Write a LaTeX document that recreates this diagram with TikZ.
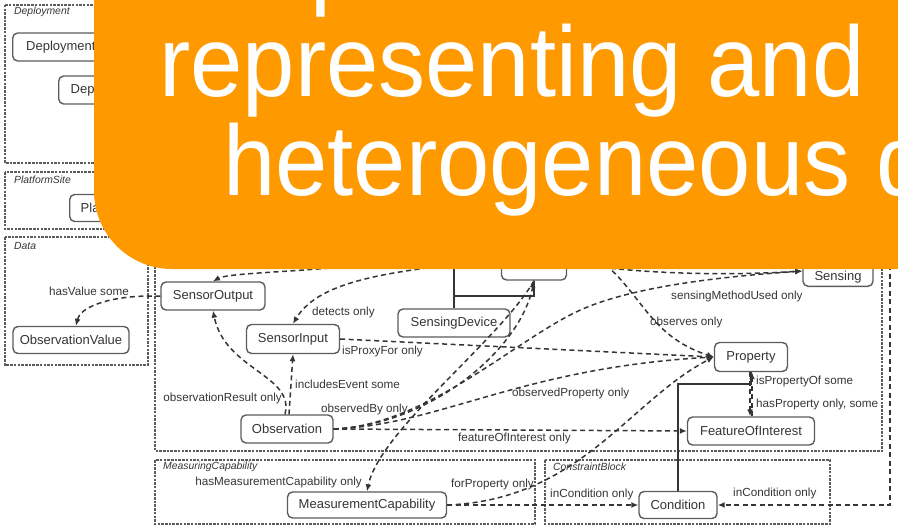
\documentclass[tikz,border=0pt]{standalone}
\usepackage{fontspec}
\setmainfont{Liberation Sans}
\usetikzlibrary{arrows.meta}

\definecolor{ink}{HTML}{353535}
\definecolor{frame}{HTML}{5C5C5C}
\definecolor{banner}{HTML}{FF9900}

\tikzset{
  cls/.style={draw=frame, line width=1.4pt, rounded corners=5pt, fill=white,
    text=ink, font=\fontsize{13}{15}\selectfont, inner sep=0pt},
  prop/.style={draw=ink, line width=1.5pt, dash pattern=on 5pt off 3.5pt},
  tip/.style={-{Latex[length=7pt,width=6pt]}},
  isa/.style={draw=ink, line width=1.4pt},
  module/.style={draw=frame, line width=1.4pt, dash pattern=on 2.5pt off 1.2pt},
  modlabel/.style={font=\fontsize{10.4}{12}\selectfont\itshape, text=ink,
    anchor=west, inner sep=0pt},
  lbl/.style={font=\fontsize{11.7}{13}\selectfont, text=ink, inner sep=0pt},
  headline/.style={font=\fontsize{100}{100}\selectfont, text=white,
    anchor=base west, inner sep=0pt},
}

\begin{document}
\begin{tikzpicture}[x=1pt,y=-1pt]
\useasboundingbox (0,0) rectangle (898,527);
\clip (0,0) rectangle (898,527);

% ---- modules --------------------------------------------------------
\draw[module] (5,5) rectangle (420,163);
\node[modlabel] (mDeployment) at (14,12) {Deployment};
\draw[module] (5,172) rectangle (420,229);
\node[modlabel] (mPlatform) at (14,180) {PlatformSite};
\draw[module] (5,237) rectangle (148,365);
\node[modlabel] (mData) at (14,246) {Data};
\draw[module] (155,200) rectangle (882,451);
\draw[module] (155,460) rectangle (535,524);
\node[modlabel] (mMeasuring) at (163,467) {MeasuringCapability};
\draw[module] (545,460) rectangle (830,524);
\node[modlabel] (mConstraint) at (553,467) {ConstraintBlock};

% ---- classes --------------------------------------------------------
\node[cls, anchor=west, inner xsep=13.5pt, minimum height=28pt] (dep) at (12,47) {Deployment};
\node[cls, anchor=west, inner xsep=12pt, minimum height=28pt] (drp) at (58,90) {DeploymentRelatedProcess};
\node[cls, anchor=west, inner xsep=11pt, minimum height=27pt] (plat) at (69,208) {Platform};
\node[cls, minimum width=116pt, minimum height=27pt] (oval) at (71,340) {ObservationValue};
\node[cls, minimum width=104pt, minimum height=28pt] (sout) at (213,296) {SensorOutput};
\node[cls, minimum width=93pt, minimum height=29pt] (sin) at (293,339) {SensorInput};
\node[cls, minimum width=112pt, minimum height=28pt] (sd) at (454,323) {SensingDevice};
\node[cls, minimum width=65pt, minimum height=44pt] (sens) at (534,258) {Sensor};
\node[cls, anchor=south, minimum width=70pt, text height=25pt, text depth=5.5pt]
  (sensing) at (838,287) {Sensing};
\node[cls, minimum width=73pt, minimum height=29pt] (prop) at (751,357) {Property};
\node[cls, minimum width=127pt, minimum height=28pt] (foi) at (751,431) {FeatureOfInterest};
\node[cls, minimum width=92pt, minimum height=28pt] (obs) at (287,429) {Observation};
\node[cls, minimum width=159pt, minimum height=26pt] (mc) at (367,505) {MeasurementCapability};
\node[cls, minimum width=78pt, minimum height=27pt] (cond) at (678,505) {Condition};

% free ends of connectors that run on beyond the frame
\coordinate (devc) at (454,230);
\coordinate (sdj) at (454,296);
\coordinate (outsrc) at (380,262);
\coordinate (detsrc) at (470,262);
\coordinate (obssrc) at (592,255);
\coordinate (implsrc) at (560,262);
\coordinate (rangesrc) at (890,180);
\coordinate (cj) at (751,384);

% ---- subclass links -------------------------------------------------
\draw[isa] (sd.north) -- (devc);
\draw[isa] (sdj) -| (sens.south);
\draw[isa] (cond.north) |- (cj) -- (prop.south);

% ---- properties -----------------------------------------------------
\draw[prop,tip] (sout.west) -- (147,296) .. controls (105,297) and (80,308) .. ([xshift=5pt]oval.north);
\draw[prop,tip] (outsrc) .. controls (320,272) and (230,272) .. (sout.north);
\draw[prop,tip] (detsrc) .. controls (400,272) and (320,278) .. (sin.north);
\draw[prop,tip] ([xshift=-2pt]obs.north) .. controls (295,375) and (225,370) .. (sout.south);
\draw[prop,tip] ([xshift=2pt]obs.north) -- (sin.south);
\draw[prop,tip] (sin.east) -- (prop.west);
\draw[prop,tip] (obs.east) .. controls (430,425) and (520,350) .. (sens.south);
\draw[prop,tip] (sens.south) .. controls (500,340) and (380,430) .. (mc.north);
\draw[prop,tip] (obs.east) .. controls (430,425) and (520,335) .. (585,308) .. controls (640,285) and (730,276) .. (sensing.west);
\draw[prop,tip] (implsrc) .. controls (640,274) and (720,276) .. (sensing.west);
\draw[prop,tip] (obs.east) .. controls (440,425) and (520,368) .. (prop.west);
\draw[prop,tip] (obs.east) -- (foi.west);
\draw[prop,tip] (obssrc) .. controls (640,285) and (645,335) .. (prop.west);
\draw[prop,tip] (mc.east) .. controls (580,500) and (630,400) .. (prop.west);
\draw[prop,tip] ([xshift=1pt]foi.north) -- ([xshift=1pt]prop.south);
\draw[prop,tip] ([xshift=-1pt]prop.south) -- ([xshift=-1pt]foi.north);
\draw[prop,tip] (mc.east) -- (cond.west);
\draw[prop,tip] (rangesrc) |- (cond.east);

% ---- property labels ------------------------------------------------
\node[lbl, anchor=east] (lHasValue) at (129,291) {hasValue some};
\node[lbl, anchor=west] (lDetects) at (312,312) {detects only};
\node[lbl, anchor=west] (lProxy) at (342,351) {isProxyFor only};
\node[lbl, anchor=west] (lEvent) at (295,384) {includesEvent some};
\node[lbl, anchor=east] (lResult) at (282,398) {observationResult only};
\node[lbl, anchor=west] (lBy) at (321,409) {observedBy only};
\node[lbl, anchor=west] (lObsProp) at (512,393) {observedProperty only};
\node[lbl, anchor=west] (lFoi) at (458,438) {featureOfInterest only};
\node[lbl, anchor=west] (lMethod) at (671,296) {sensingMethodUsed only};
\node[lbl, anchor=west] (lObserves) at (650,322) {observes only};
\node[lbl, anchor=west] (lPropOf) at (756,381) {isPropertyOf some};
\node[lbl, anchor=west] (lHasProp) at (756,404) {hasProperty only, some};
\node[lbl, anchor=east] (lMeas) at (362,482) {hasMeasurementCapability only};
\node[lbl, anchor=east] (lForProp) at (534,484) {forProperty only};
\node[lbl, anchor=west] (lCondL) at (550,494) {inCondition only};
\node[lbl, anchor=west] (lCondR) at (733,493) {inCondition only};

% ---- title banner ---------------------------------------------------
\fill[banner, rounded corners=78pt] (94,-120) rectangle (1000,269);
\node[headline] (t0) at (310,-3) {\scalebox{0.94}[1]{p}};
\node[headline] (t1) at (159,97) {\scalebox{0.94}[1]{representing and}};
\node[headline] (t2) at (223,195) {\scalebox{0.94}[1]{heterogeneous d}};
\end{tikzpicture}
\end{document}
